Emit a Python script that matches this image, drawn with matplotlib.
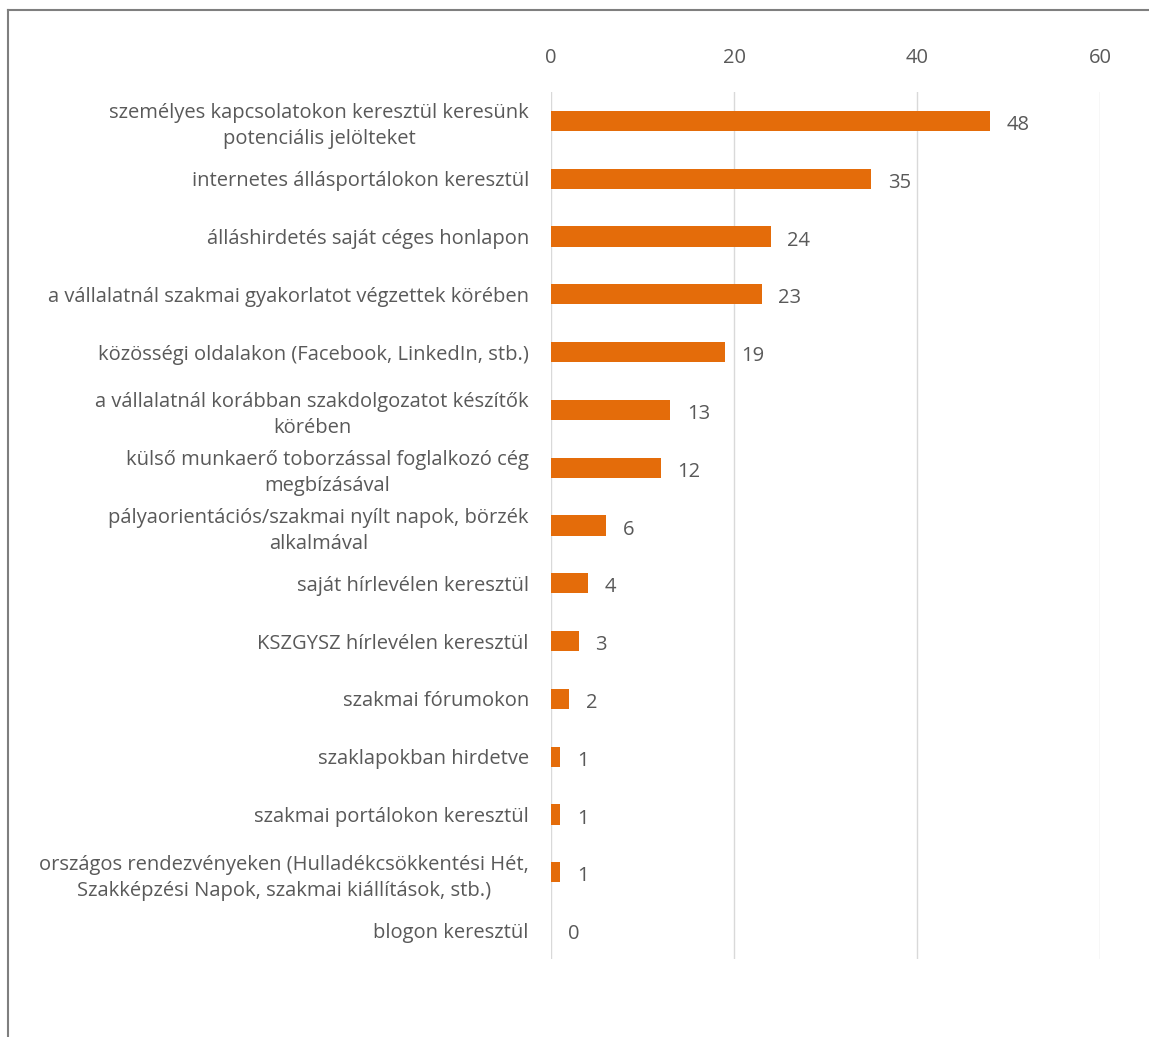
import matplotlib.pyplot as plt
from matplotlib.lines import Line2D

plt.rcParams['font.family'] = ['Open Sans', 'DejaVu Sans']

labels = [
    "személyes kapcsolatokon keresztül keresünk\npotenciális jelölteket",
    "internetes állásportálokon keresztül",
    "álláshirdetés saját céges honlapon",
    "a vállalatnál szakmai gyakorlatot végzettek körében",
    "közösségi oldalakon (Facebook, LinkedIn, stb.)",
    "a vállalatnál korábban szakdolgozatot készítők\nkörében",
    "külső munkaerő toborzással foglalkozó cég\nmegbízásával",
    "pályaorientációs/szakmai nyílt napok, börzék\nalkalmával",
    "saját hírlevélen keresztül",
    "KSZGYSZ hírlevélen keresztül",
    "szakmai fórumokon",
    "szaklapokban hirdetve",
    "szakmai portálokon keresztül",
    "országos rendezvényeken (Hulladékcsökkentési Hét,\nSzakképzési Napok, szakmai kiállítások, stb.)",
    "blogon keresztül",
]
values = [48, 35, 24, 23, 19, 13, 12, 6, 4, 3, 2, 1, 1, 1, 0]
xticks = [0, 20, 40, 60]

bar_color = '#E46C0A'
text_color = '#595959'
grid_color = '#D9D9D9'
fs = 14.5

fig = plt.figure(figsize=(11.49, 10.37), dpi=100)
ax = fig.add_axes([0.4796, 0.0752, 0.9574 - 0.4796, 0.9113 - 0.0752])

pos = list(range(len(labels)))
bars = ax.barh(pos, values, height=0.35, color=bar_color)
for b, v in zip(bars, values):
    ax.annotate(str(v), (b.get_width(), b.get_y() + b.get_height() / 2),
                xytext=(12, -3), textcoords='offset points',
                ha='left', va='center', fontsize=fs, color=text_color)

ax.set_xlim(0, 60)
ax.set_ylim(len(labels) - 0.5, -0.5)
ax.set_xticks(xticks)
ax.set_yticks(pos)
ax.set_yticklabels(labels)
for t in ax.get_yticklabels():
    t.set_multialignment('center')
    t.set_linespacing(1.4)

ax.xaxis.tick_top()
ax.tick_params(axis='x', length=0, pad=17, labelsize=fs, labelcolor=text_color)
ax.tick_params(axis='y', length=0, pad=16, labelsize=fs, labelcolor=text_color)
for s in ax.spines.values():
    s.set_visible(False)
ax.grid(axis='x', color=grid_color, linewidth=1)
ax.set_axisbelow(True)

# outer frame: only left and top edges fall inside the image
fig.add_artist(Line2D([8 / 1149, 8 / 1149], [0, 1 - 10 / 1037],
                      transform=fig.transFigure, color='#7F7F7F', linewidth=1.5))
fig.add_artist(Line2D([8 / 1149, 1], [1 - 10 / 1037, 1 - 10 / 1037],
                      transform=fig.transFigure, color='#7F7F7F', linewidth=1.5))

fig.savefig('out.png', dpi=100)
plt.close(fig)
